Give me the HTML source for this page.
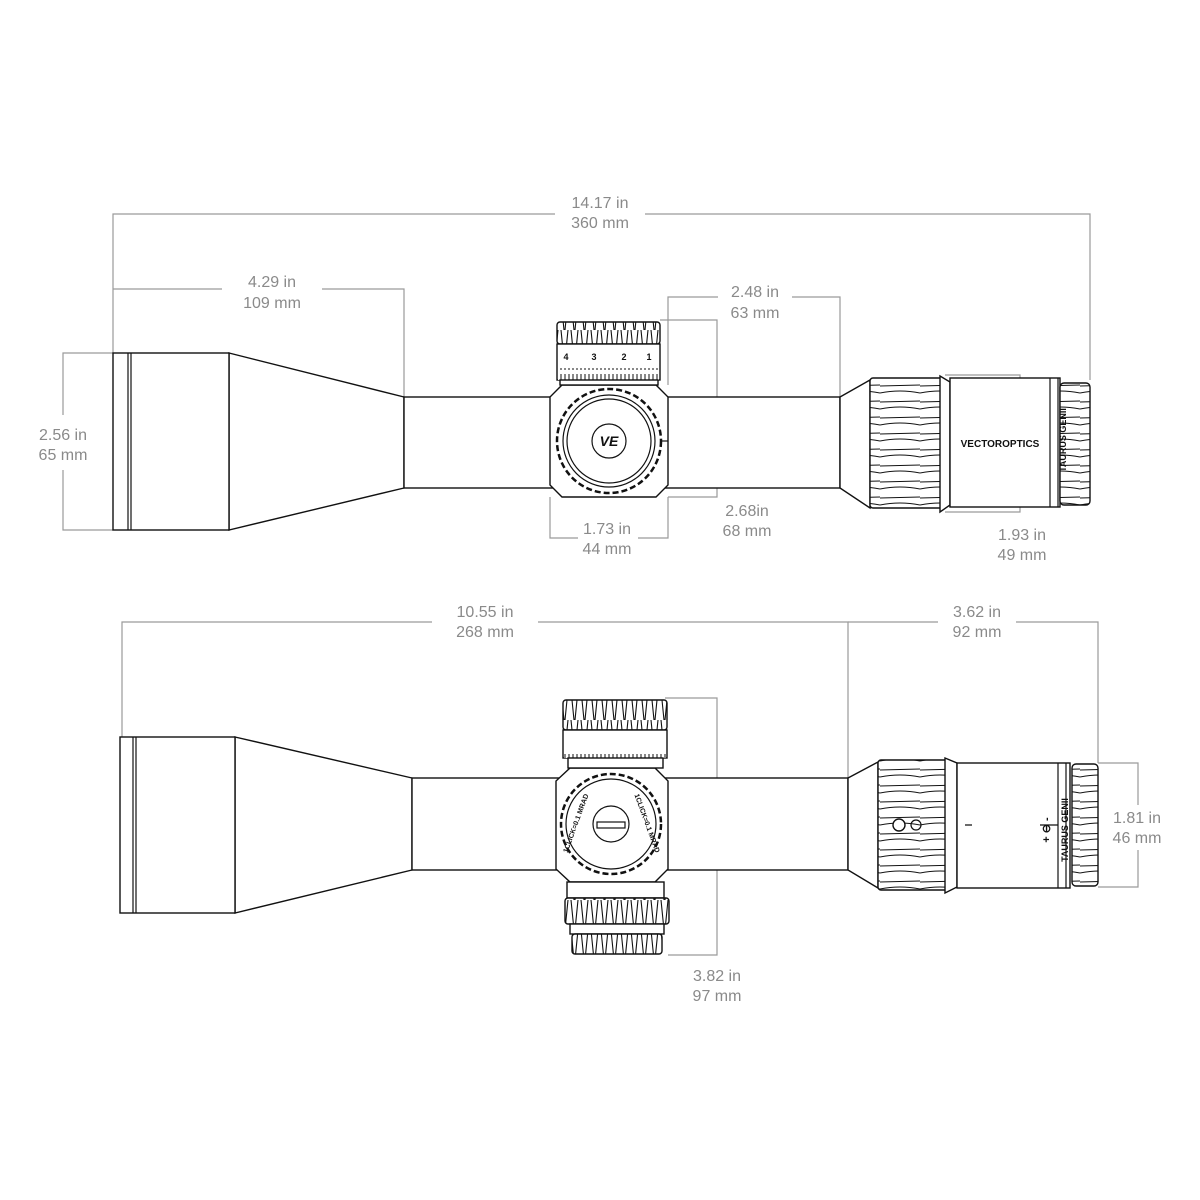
<!DOCTYPE html>
<html><head><meta charset="utf-8"><style>
html,body{margin:0;padding:0;background:#fff;width:1200px;height:1200px;overflow:hidden}
svg{display:block}
text{font-family:"Liberation Sans",sans-serif;font-size:16px;fill:#8a8a8a;text-anchor:middle}
.d{stroke:#9a9a9a;stroke-width:1.2;fill:none}
.s{stroke:#111;stroke-width:1.4;fill:#fff}
.l{stroke:#111;stroke-width:1.2;fill:none}
.t{font-size:9px;fill:#111;font-weight:bold}
</style></head><body>
<svg width="1200" height="1200" viewBox="0 0 1200 1200">
<defs>
<pattern id="kv" width="10" height="30" patternUnits="userSpaceOnUse">
<rect width="10" height="30" fill="#fff"/><path d="M1 0 L4 30 M8 0 L5 30" stroke="#111" stroke-width="1.1"/>
</pattern>
<pattern id="kh" width="40" height="16" patternUnits="userSpaceOnUse">
<rect width="40" height="16" fill="#fff"/><path d="M0 2 L40 1 M0 9 Q20 5 40 9" stroke="#111" stroke-width="1.1" fill="none"/>
</pattern>
<pattern id="tick" width="4" height="10" patternUnits="userSpaceOnUse">
<rect width="4" height="10" fill="#fff"/><path d="M1 4 L1 10" stroke="#111" stroke-width="1"/>
</pattern>
</defs>

<!-- ===== TOP SCOPE dimensions ===== -->
<path class="d" d="M113 353 V214 H555 M645 214 H1090 V380"/>
<text x="600" y="208">14.17 in</text><text x="600" y="228">360 mm</text>
<path class="d" d="M113 289 H222 M322 289 H404 V397"/>
<text x="272" y="287">4.29 in</text><text x="272" y="308">109 mm</text>
<path class="d" d="M668 385 V297 H718 M792 297 H840 V397"/>
<text x="755" y="297">2.48 in</text><text x="755" y="318">63 mm</text>
<path class="d" d="M113 353 H63 V415 M63 470 V530 H113"/>
<text x="63" y="440">2.56 in</text><text x="63" y="460">65 mm</text>
<path class="d" d="M550 497 V538 H578 M638 538 H668 V497"/>
<text x="607" y="534">1.73 in</text><text x="607" y="554">44 mm</text>
<path class="d" d="M660 320 H717 V497 H668"/>
<text x="747" y="516">2.68in</text><text x="747" y="536">68 mm</text>
<path class="d" d="M945 375 H1020 V512 H945"/>
<text x="1022" y="540">1.93 in</text><text x="1022" y="560">49 mm</text>

<!-- ===== TOP SCOPE body ===== -->
<path class="s" d="M229 353 L404 397 L404 488 L229 530 Z"/>
<rect class="s" x="113" y="353" width="116" height="177"/>
<path class="l" d="M128 353 V530 M131 353 V530"/>
<rect class="s" x="404" y="397" width="436" height="91"/>
<!-- turret -->
<path class="s" d="M562 385 H656 L668 397 V485 L656 497 H562 L550 485 V397 Z"/>
<rect x="557" y="322" width="103" height="22" fill="url(#kv)" stroke="#111" stroke-width="1.4" rx="3"/>
<rect class="s" x="557" y="344" width="103" height="36"/>
<rect x="558" y="368" width="101" height="12" fill="url(#tick)"/>
<text class="t" x="566" y="360">4</text><text class="t" x="594" y="360">3</text><text class="t" x="624" y="360">2</text><text class="t" x="649" y="360">1</text>
<rect class="s" x="560" y="380" width="98" height="5"/>
<circle cx="609" cy="441" r="52" fill="#fff" stroke="#111" stroke-width="2.5" stroke-dasharray="6 3"/>
<circle class="l" cx="609" cy="441" r="46"/>
<circle class="l" cx="609" cy="441" r="42"/>
<circle class="l" cx="609" cy="441" r="17"/>
<text x="609" y="446" style="font-size:14px;fill:#111;font-weight:bold;font-style:italic">VE</text>
<path class="l" d="M661 441 H668"/>
<!-- eyepiece -->
<path class="s" d="M840 397 L870 380 L870 508 L840 488 Z"/>
<rect x="870" y="378" width="75" height="130" fill="url(#kh)" stroke="#111" stroke-width="1.4" rx="3"/>
<path class="s" d="M940 376 L950 382 V505 L940 512 Z"/>
<rect class="s" x="950" y="378" width="110" height="129"/>
<path class="l" d="M1050 378 V507 M1058 378 V507"/>
<rect x="1060" y="383" width="30" height="122" fill="url(#kh)" stroke="#111" stroke-width="1.4" rx="4"/>
<text x="1000" y="447" style="font-size:10px;fill:#111;font-weight:bold">VECTOROPTICS</text>
<text x="1066" y="440" transform="rotate(-90 1066 440)" style="font-size:9px;fill:#111;font-weight:bold">TAURUS GENII</text>

<!-- ===== BOTTOM SCOPE dimensions ===== -->
<path class="d" d="M122 737 V622 H432 M538 622 H848 V778"/>
<text x="485" y="617">10.55 in</text><text x="485" y="637">268 mm</text>
<path class="d" d="M848 622 H938 M1016 622 H1098 V763"/>
<text x="977" y="617">3.62 in</text><text x="977" y="637">92 mm</text>
<path class="d" d="M1098 763 H1138 V805 M1138 850 V887 H1098"/>
<text x="1137" y="823">1.81 in</text><text x="1137" y="843">46 mm</text>
<path class="d" d="M665 698 H717 V955 H668"/>
<text x="717" y="981">3.82 in</text><text x="717" y="1001">97 mm</text>

<!-- ===== BOTTOM SCOPE body ===== -->
<path class="s" d="M235 737 L412 778 L412 870 L235 913 Z"/>
<rect class="s" x="120" y="737" width="115" height="176"/>
<path class="l" d="M133 737 V913 M136 737 V913"/>
<rect class="s" x="412" y="778" width="436" height="92"/>
<!-- turret -->
<path class="s" d="M570 768 H655 L668 781 V869 L655 882 H570 L556 869 V781 Z"/>
<rect x="563" y="700" width="104" height="30" fill="url(#kv)" stroke="#111" stroke-width="1.4" rx="3"/>
<rect class="s" x="563" y="730" width="104" height="28"/>
<rect x="564" y="750" width="102" height="8" fill="url(#tick)"/>
<rect class="s" x="568" y="758" width="95" height="10"/>
<circle cx="611" cy="824" r="50" fill="#fff" stroke="#111" stroke-width="2.5" stroke-dasharray="6 3"/>
<circle class="l" cx="611" cy="824" r="45"/>
<circle class="l" cx="611" cy="824" r="18"/>
<rect class="l" x="597" y="822" width="28" height="6"/>
<text x="578" y="824" transform="rotate(-70 578 824)" style="font-size:7px;fill:#111;font-weight:bold">1CLICK=0.1 MRAD</text>
<text x="645" y="824" transform="rotate(70 645 824)" style="font-size:7px;fill:#111;font-weight:bold">1CLICK=0.1 MRAD</text>
<rect class="s" x="567" y="882" width="97" height="16"/>
<rect x="565" y="898" width="104" height="26" fill="url(#kv)" stroke="#111" stroke-width="1.4" rx="3"/>
<rect class="s" x="570" y="924" width="94" height="10"/>
<rect x="572" y="934" width="90" height="20" fill="url(#kv)" stroke="#111" stroke-width="1.4" rx="3"/>
<!-- eyepiece -->
<path class="s" d="M848 778 L878 762 L878 888 L848 870 Z"/>
<rect x="878" y="760" width="72" height="130" fill="url(#kh)" stroke="#111" stroke-width="1.4" rx="3"/>
<path class="s" d="M945 758 L957 763 V887 L945 893 Z"/>
<rect class="s" x="957" y="763" width="113" height="125"/>
<path class="l" d="M1058 763 V888 M1066 763 V888"/>
<rect x="1072" y="764" width="26" height="122" fill="url(#kh)" stroke="#111" stroke-width="1.4" rx="4"/>
<circle class="s" cx="899" cy="825" r="6"/><circle class="l" cx="916" cy="825" r="5"/>
<path class="l" d="M965 825 H972 M1040 825 H1058"/>
<text x="1068" y="830" transform="rotate(-90 1068 830)" style="font-size:9px;fill:#111;font-weight:bold">TAURUS GENII</text>
<text x="1050" y="830" transform="rotate(-90 1050 830)" style="font-size:11px;fill:#111;font-weight:bold">+ ⊖ -</text>
</svg>
</body></html>
